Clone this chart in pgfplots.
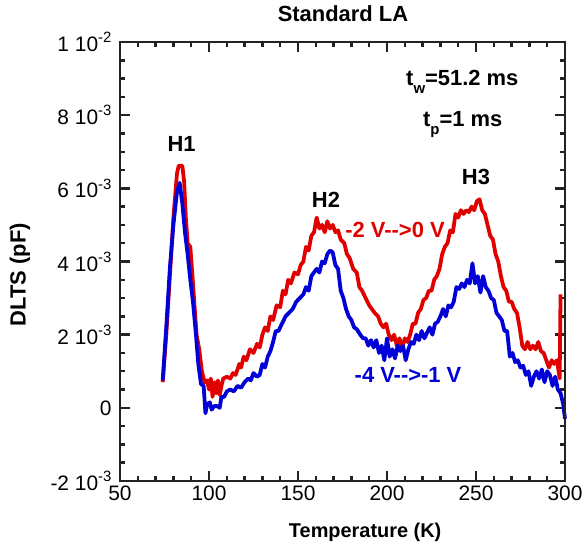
\documentclass[border=0pt]{standalone}
\usepackage{fontspec}
\setmainfont{Liberation Sans}
\usepackage{pgfplots}
\usepackage{pgfplotstable}
\pgfplotsset{compat=1.18}
\definecolor{myred}{RGB}{225,0,0}
\definecolor{myblue}{RGB}{0,0,215}
\definecolor{mydark}{RGB}{35,35,35}

\pgfplotstableread{
T v
74 0.7
76 2.0
78 3.6
80 5.2
82 6.4
83 6.62
85 6.62
86 6.2
87 5.2
88 4.5
89.5 4.4
91 3.4
93 2.0
94.5 1.6
96 1.0
97.5 0.7
99 0.75
100 0.5
101 0.8
102 0.3
103 0.7
104 0.4
105 0.75
106 0.35
107 0.6
108 0.8
110 0.85
112 0.8
113.5 0.95
115 0.9
117 1.2
118 1.1
119.5 1.4
121 1.3
123 1.6
125 1.5
127 1.75
128.5 1.65
130 2.0
131.5 2.2
133 2.1
134.5 2.5
136 2.4
138 2.8
140 2.75
141.5 3.2
143 3.1
144.5 3.5
146 3.4
148 3.7
150 3.65
151.5 3.9
153 4.0
154.5 4.4
156 4.3
157.5 4.7
159 4.8
160.5 5.2
162 4.9
163.5 5.0
165 4.8
166.5 5.1
168 4.9
169.5 5.0
171 4.8
172.5 4.85
174 4.6
176 4.5
177.5 4.2
179 4.1
181 3.8
183 3.7
184.5 3.3
186 3.2
188 3.0
190 2.8
191.5 2.7
193 2.6
195 2.5
196.5 2.3
198 2.2
199.5 2.3
201 2.0
202.5 1.85
204 2.0
205.5 1.7
207 1.9
208.5 1.65
210 1.9
211.5 1.8
213 2.0
214.5 2.3
216 2.3
217.5 2.6
219 2.7
220.5 2.95
222 3.0
223.5 3.2
225 3.2
226.5 3.5
228 3.6
229.5 3.8
231 4.2
232.5 4.4
234 4.5
235.5 4.85
237 4.8
238.5 5.3
240 5.2
241.5 5.4
243 5.3
244.5 5.4
246 5.35
247.5 5.5
249 5.4
250.5 5.65
252 5.7
253.5 5.4
255 5.3
256.5 5.0
258 4.7
259.5 4.6
261 4.2
262.5 4.0
264 3.6
265.5 3.3
267 3.2
268.5 2.9
270 2.9
271.5 2.7
273 2.6
274.5 2.2
276 1.7
277.5 1.6
279 1.8
280.5 1.6
282 1.7
283.5 1.6
285 1.8
286.5 1.55
288 1.5
289.5 1.3
291 1.1
292.5 1.3
294 1.2
295.5 1.3
297 0.8
297.5 3.1
}\redtable

\pgfplotstableread{
T v
74 0.75
76 2.2
78 3.8
80 5.0
82 5.9
83.5 6.15
85 5.6
86.5 4.8
88 4.2
89.5 3.5
91 2.9
92.5 2.1
94 1.2
95.5 0.65
97 0.6
98 -0.15
99 0.1
100.5 0.15
101.5 -0.05
103 0.05
104.5 0.05
106 0.0
107 0.3
108.5 0.3
110 0.45
112 0.5
114 0.45
116 0.6
118 0.55
120 0.7
122 0.8
123.5 0.75
125 0.95
127 0.85
128.5 0.9
130 1.2
131.5 1.1
133 1.4
134.5 1.55
136 1.8
137.5 2.1
139 2.1
141 2.3
143 2.5
145 2.6
147 2.7
149 2.9
151 3.0
153 3.1
154.5 3.3
156 3.2
157.5 3.6
159 3.7
160.5 3.8
162 3.7
163.5 4.0
165 3.95
166.5 4.2
168 4.3
169.5 4.25
171 3.9
172.5 3.8
174 3.2
175.5 3.0
177 2.7
178.5 2.5
180 2.4
181.5 2.2
183 2.15
185 2.0
186.5 1.9
188 1.9
189.5 1.7
191 1.85
192.5 1.65
194 1.85
195.5 1.5
197 1.7
198.5 1.3
200 1.9
201.5 1.4
203 1.6
204.5 1.35
206 1.7
207.5 1.55
209 1.7
210.5 1.3
212 1.6
213.5 1.8
215 1.75
216.5 2.0
218 1.85
219.5 2.1
221 1.9
222.5 2.05
224 2.2
225.5 2.0
227 2.3
228.5 2.35
230 2.5
231.5 2.7
233 2.5
234.5 2.8
236 2.75
237.5 2.9
239 3.3
240.5 3.25
242 3.4
243.5 3.3
245 3.5
246.5 3.4
248 3.95
249.5 3.4
251 3.6
252.5 3.15
254 3.6
255.5 3.3
257 3.2
258.5 3.0
260 2.95
261.5 2.6
263 2.5
264.5 2.4
266 2.1
267.5 2.1
269 1.4
270.5 1.5
272 1.25
273.5 1.3
275 1.1
276.5 1.15
278 0.9
279.5 1.0
281 0.6
282.5 0.85
284 1.0
285.5 0.8
287 1.05
288.5 0.7
290 1.0
291.5 0.9
293 0.6
294.5 0.85
296 0.5
297.5 0.4
299 0.1
300 -0.3
}\bluetable

\pgfplotstableread{
x y
50 -2
300 -2
300 10
50 10
50 -2
300 -2
}\frametable

\newcommand{\E}[1]{\ 10\raisebox{0.42em}{\fontsize{15}{15}\selectfont #1}}

\begin{document}
\begin{tikzpicture}
\useasboundingbox (-120bp,-65bp) rectangle (466bp,481bp);
\begin{axis}[scale only axis, width=445bp, height=439bp,
  at={(0,0)}, anchor=south west,
  xmin=50, xmax=300, ymin=-2, ymax=10,
  xtick={50,100,150,200,250,300},
  xticklabels={50,100,150,200,250,300},
  minor xtick={60,70,80,90,110,120,130,140,160,170,180,190,210,220,230,240,260,270,280,290},
  ytick={-2,0,2,4,6,8,10},
  yticklabels={-2\E{-3},0,2\E{-3},4\E{-3},6\E{-3},8\E{-3},1\E{-2}},
  minor ytick={-1.5,-1,-0.5,0.5,1,1.5,2.5,3,3.5,4.5,5,5.5,6.5,7,7.5,8.5,9,9.5},
  tick align=inside, tick pos=both,
  major tick length=10pt, minor tick length=5.5pt,
  tick style={mydark, line width=2.5pt},
  axis line style={mydark, line width=2.8pt},
  ticklabel style={font=\fontsize{21}{24}\selectfont},
  yticklabel style={xshift=-5pt},
  xticklabel style={yshift=-1pt},
  xlabel={\textbf{Temperature (K)}},
  xlabel style={font=\fontsize{20}{24}\selectfont, at={(axis description cs:0.551,-0.116)}, anchor=center},
  ylabel={\textbf{DLTS (pF)}},
  ylabel style={font=\fontsize{22}{24}\selectfont, at={(axis description cs:-0.2247,0.47)}, anchor=center},
  title={\textbf{Standard LA}},
  title style={font=\fontsize{22}{24}\selectfont, at={(axis description cs:0.501,1.05)}, anchor=center},
  clip=false,
]
\addplot[myred, line width=3.8pt, line join=round] table[x=T, y=v] {\redtable};
\addplot[myblue, line width=3.8pt, line join=round] table[x=T, y=v] {\bluetable};
\addplot[mydark, line width=2.8pt, line join=miter] table[x=x, y=y] {\frametable};

\node[font=\fontsize{22}{24}\selectfont\bfseries] at (axis cs:84.6,7.22) {H1};
\node[font=\fontsize{22}{24}\selectfont\bfseries] at (axis cs:165.7,5.68) {H2};
\node[font=\fontsize{22}{24}\selectfont\bfseries] at (axis cs:250,6.32) {H3};
\node[font=\fontsize{22}{24}\selectfont\bfseries, text=myred] at (axis cs:204.5,4.86) {-2 V-{}-{}>0 V};
\node[font=\fontsize{22}{24}\selectfont\bfseries, text=myblue] at (axis cs:211.8,0.9) {-4 V-{}-{}>-1 V};
\node[font=\fontsize{22}{24}\selectfont\bfseries, anchor=base west, inner sep=0pt] at (axis cs:210.7,8.82) {t\raisebox{-0.4em}{\fontsize{15}{15}\selectfont w}=51.2 ms};
\node[font=\fontsize{22}{24}\selectfont\bfseries, anchor=base west, inner sep=0pt] at (axis cs:220.2,7.70) {t\raisebox{-0.4em}{\fontsize{15}{15}\selectfont p}=1 ms};
\end{axis}
\end{tikzpicture}
\end{document}
